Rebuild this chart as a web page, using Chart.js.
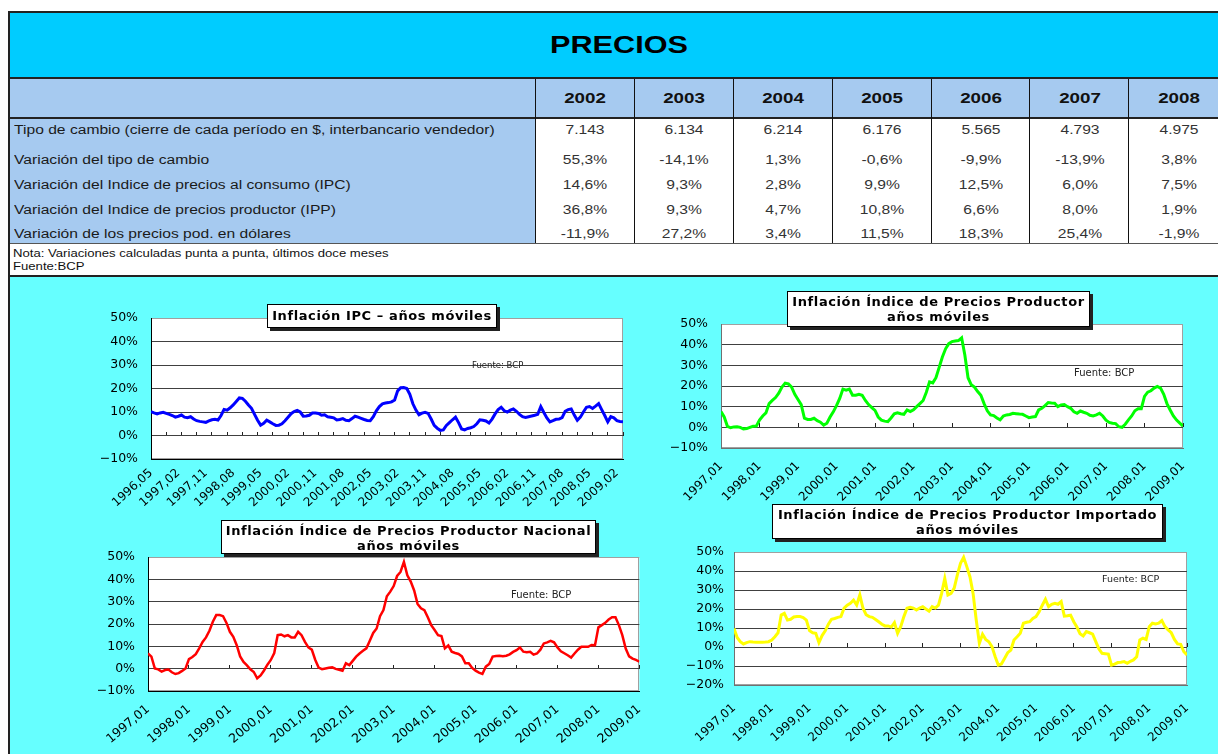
<!DOCTYPE html>
<html><head><meta charset="utf-8">
<script src="https://cdn.jsdelivr.net/npm/chart.js@4.4.0/dist/chart.umd.min.js"></script>
<style>
html,body{margin:0;padding:0;}
body{width:1218px;height:754px;overflow:hidden;position:relative;background:#fff;font-family:"Liberation Sans",Arial,sans-serif;}
.abs{position:absolute;}
.t{position:absolute;white-space:nowrap;height:20px;line-height:20px;}
.tl{transform-origin:0 50%;transform:scaleX(1.25);}
.tc{transform:translate(-50%,0) scaleX(1.25);}
.box{position:absolute;background:#fff;border:1px solid #000;box-shadow:3px 3px 0 #222;font-family:"DejaVu Sans",sans-serif;font-weight:bold;font-size:13px;letter-spacing:0.6px;line-height:15px;text-align:center;color:#000;box-sizing:border-box;white-space:nowrap;}
.src{position:absolute;font-family:"DejaVu Sans",sans-serif;color:#222;white-space:nowrap;line-height:12px;}
canvas{position:absolute;}
</style></head><body>
<!-- page blocks -->
<div class="abs" style="left:10px;top:13px;width:1220px;height:64px;background:#00CCFF"></div>
<div class="abs" style="left:10px;top:79px;width:1220px;height:38px;background:#A6CAF0"></div>
<div class="abs" style="left:10px;top:119px;width:526px;height:124px;background:#A6CAF0"></div>
<div class="abs" style="left:10px;top:277px;width:1220px;height:480px;background:#66FFFF"></div>
<div class="abs" style="left:8px;top:11px;width:1230px;height:2px;background:#222"></div>
<div class="abs" style="left:8px;top:11px;width:2px;height:760px;background:#222"></div>
<div class="abs" style="left:10px;top:77px;width:1220px;height:2px;background:#222"></div>
<div class="abs" style="left:10px;top:117px;width:1220px;height:2px;background:#222"></div>
<div class="abs" style="left:10px;top:243px;width:1220px;height:1px;background:#555"></div>
<div class="abs" style="left:10px;top:275px;width:1220px;height:2px;background:#222"></div>
<div id="cols"></div>
<div id="texts"></div>

<canvas id="c1" width="580" height="225" style="left:60px;top:290px"></canvas>
<canvas id="c2" width="558" height="215" style="left:660px;top:290px"></canvas>
<canvas id="c3" width="600" height="239" style="left:60px;top:515px"></canvas>
<canvas id="c4" width="558" height="249" style="left:660px;top:505px"></canvas>

<div class="box" style="left:267px;top:304px;width:230px;height:24px;line-height:22px">Inflación IPC – años móviles</div>
<div class="box" style="left:787px;top:291px;width:303px;height:36px;padding-top:2px">Inflación Índice de Precios Productor<br>años móviles</div>
<div class="box" style="left:221px;top:520px;width:375px;height:34px;padding-top:2px">Inflación Índice de Precios Productor Nacional<br>años móviles</div>
<div class="box" style="left:772px;top:504px;width:391px;height:35px;padding-top:2px">Inflación Índice de Precios Productor Importado<br>años móviles</div>

<div class="src" style="left:472px;top:359px;font-size:8.5px">Fuente: BCP</div>
<div class="src" style="left:1074px;top:367px;font-size:10px">Fuente: BCP</div>
<div class="src" style="left:511px;top:589px;font-size:10px">Fuente: BCP</div>
<div class="src" style="left:1102px;top:573px;font-size:9.5px">Fuente: BCP</div>

<script>
// ---------- table data ----------
const years = ['2002','2003','2004','2005','2006','2007','2008'];
const rowLabels = [
  'Tipo de cambio (cierre de cada período en $, interbancario vendedor)',
  'Variación del tipo de cambio',
  'Variación del Indice de precios al consumo (IPC)',
  'Variación del Indice de precios productor (IPP)',
  'Variación de los precios pod. en dólares'
];
const tipoCambio   = ['7.143','6.134','6.214','6.176','5.565','4.793','4.975'];
const varTipo      = ['55,3%','-14,1%','1,3%','-0,6%','-9,9%','-13,9%','3,8%'];
const varIPC       = ['14,6%','9,3%','2,8%','9,9%','12,5%','6,0%','7,5%'];
const varIPP       = ['36,8%','9,3%','4,7%','10,8%','6,6%','8,0%','1,9%'];
const varDolares   = ['-11,9%','27,2%','3,4%','11,5%','18,3%','25,4%','-1,9%'];
const notes = ['Nota: Variaciones calculadas punta a punta, últimos doce meses','Fuente:BCP'];

// ---------- chart data ----------
const ipcTickLabels = ['1996,05','1997,02','1997,11','1998,08','1999,05','2000,02','2000,11','2001,08','2002,05','2003,02','2003,11','2004,08','2005,05','2006,02','2006,11','2007,08','2008,05','2009,02'];
const yearTickLabels = ['1997,01','1998,01','1999,01','2000,01','2001,01','2002,01','2003,01','2004,01','2005,01','2006,01','2007,01','2008,01','2009,01'];

const ipc = [10.1,9.6,9.2,9.6,9.9,9.4,9.0,8.5,7.8,8.2,
 8.7,7.8,7.6,8.0,7.0,6.3,6.0,5.8,5.6,6.2,
 6.7,6.9,6.6,8.5,11.1,10.8,11.8,13.0,14.5,16.0,
 15.8,14.6,13.0,11.6,9.0,6.5,4.4,5.2,6.5,5.8,
 5.0,4.3,4.4,5.0,6.3,7.8,9.3,10.2,10.7,10.0,
 8.2,8.3,8.6,9.6,9.6,9.4,8.6,8.8,8.0,7.8,
 7.5,6.6,6.8,7.2,6.5,6.3,7.2,8.2,7.8,7.3,
 6.8,6.4,6.3,8.0,10.5,12.3,13.5,13.8,14.0,14.3,
 15.1,19.0,20.3,20.4,20.0,17.5,13.5,10.8,8.8,9.5,
 9.9,9.4,7.0,4.3,3.1,2.2,2.4,4.3,5.5,6.7,
 7.8,5.5,2.8,2.4,3.0,3.3,3.8,5.0,6.7,6.5,
 6.2,5.3,7.0,9.2,11.0,12.0,10.5,10.0,10.8,11.3,
 10.3,9.0,8.0,7.7,8.0,8.3,8.6,9.0,12.3,9.8,
 7.5,5.8,6.3,6.9,7.0,7.6,10.3,11.0,11.3,8.7,
 6.5,7.8,10.0,12.0,12.3,11.5,12.5,13.6,11.0,8.5,
 5.8,8.0,7.5,6.3,6.0,5.9];

const ipp = [7.6,5.0,0.5,-0.2,0.2,0.3,0.0,-0.8,-0.6,0.0,
 0.5,0.6,3.5,5.5,7.0,11.5,13.0,14.4,16.5,19.5,
 21.4,21.0,19.5,16.0,13.5,11.0,4.4,3.8,3.8,4.4,
 3.2,2.5,1.1,2.0,5.0,7.5,10.5,14.0,18.5,18.0,
 18.5,15.5,15.5,16.0,15.5,13.0,11.0,9.5,8.2,5.0,
 3.5,3.0,2.8,4.5,6.5,7.0,6.6,6.3,8.4,7.6,
 8.5,10.0,11.5,13.0,17.0,22.0,21.5,24.0,29.0,34.0,
 38.0,40.5,41.5,41.8,42.0,43.3,35.0,24.0,20.6,19.5,
 17.3,15.5,11.5,8.0,6.0,5.7,4.5,3.6,5.5,6.0,
 6.2,6.8,6.6,6.4,6.3,5.5,4.7,5.0,5.2,8.4,
 9.2,10.5,12.0,11.8,11.7,10.0,10.8,11.0,10.0,9.2,
 7.5,6.8,7.9,7.3,6.8,5.8,5.5,6.0,6.8,5.5,
 3.5,2.4,2.0,1.8,0.3,0.0,1.5,3.6,5.5,8.0,
 9.0,9.0,15.0,17.0,17.7,19.0,19.8,19.0,16.0,11.5,
 8.4,5.5,3.5,2.0,0.6];

const ippNacional = [6.8,5.4,0.1,-0.3,-1.3,-0.6,-0.4,-1.6,-2.4,-2.0,
 -1.0,0.1,4.3,5.2,6.5,9.1,12.0,14.0,17.0,21.0,
 24.0,24.0,23.5,20.5,16.5,14.3,10.5,5.5,3.0,1.5,
 -0.3,-1.5,-4.3,-3.0,-0.8,1.8,3.9,7.0,15.0,15.3,
 14.5,15.0,14.0,14.0,16.5,15.0,12.0,9.5,8.5,4.0,
 0.5,-0.2,0.1,0.4,0.6,-0.1,-0.5,-0.9,2.4,1.6,
 3.5,5.4,6.8,8.0,9.1,12.5,16.0,18.0,23.5,26.2,
 32.4,34.5,37.0,41.5,43.3,47.8,41.8,39.0,35.0,29.0,
 27.0,26.2,23.0,19.5,17.3,15.0,14.6,9.1,10.4,7.6,
 7.0,6.6,5.5,2.4,2.4,0.3,-0.9,-1.8,-2.4,0.9,
 2.1,5.4,5.7,5.8,5.6,5.8,6.4,7.5,8.3,9.5,
 7.6,7.4,7.6,6.3,6.8,8.5,11.3,11.8,12.5,11.8,
 9.5,7.8,6.9,6.0,5.0,6.8,8.5,9.8,9.8,9.8,
 10.6,10.5,18.5,19.5,20.5,22.0,23.0,23.0,19.5,15.0,
 9.0,5.5,4.5,3.9,3.1];

const ippImportado = [9.8,5.0,2.8,1.6,2.3,2.8,2.6,2.5,2.5,2.5,
 2.6,2.8,3.7,5.4,7.5,16.8,17.7,14.2,14.6,15.8,
 16.0,16.0,15.5,14.2,8.6,7.5,7.2,2.3,6.0,8.5,
 12.0,14.6,15.0,15.6,16.0,20.5,22.0,23.0,24.7,22.1,
 27.4,20.4,17.0,16.0,15.6,14.5,13.3,12.0,11.1,11.1,
 10.5,12.8,7.2,10.7,16.0,20.4,20.9,20.5,19.5,20.5,
 21.2,20.0,18.9,21.2,20.5,22.0,28.2,36.1,27.4,28.2,
 31.0,38.0,44.0,47.2,42.3,37.0,28.2,14.2,1.9,6.7,
 4.0,2.8,0.2,-5.0,-9.5,-8.9,-6.0,-3.0,-1.6,3.7,
 5.4,7.2,12.5,13.0,13.3,15.0,16.0,18.6,22.0,25.1,
 21.2,22.5,23.0,22.5,23.9,16.3,16.5,16.8,13.3,10.5,
 7.0,5.8,8.1,7.5,6.8,2.8,-1.0,-3.3,-3.5,-3.7,
 -9.5,-9.0,-8.2,-8.0,-7.7,-8.6,-7.5,-6.8,-5.1,3.7,
 4.6,4.0,10.7,12.5,12.1,12.5,13.9,10.7,9.0,7.5,
 4.0,1.6,1.4,-2.5,-4.2];

// ---------- table build ----------
const colEdges = [536,634.7,733.6,832.6,931.5,1030.4,1129.4,1228.3];
const colsDiv = document.getElementById('cols');
colEdges.forEach(x=>{
  const d=document.createElement('div');
  d.className='abs';
  d.style.cssText=`left:${Math.round(x)-1}px;top:79px;width:1px;height:164px;background:#111`;
  colsDiv.appendChild(d);
});
const tDiv = document.getElementById('texts');
function addText(txt,x,cy,cls,style){
  const d=document.createElement('div');
  d.className='t '+cls;
  d.textContent=txt;
  d.style.cssText=`left:${x}px;top:${cy-10}px;`+style;
  tDiv.appendChild(d);
}
addText('PRECIOS',619,45,'tc','font-size:24.5px;font-weight:bold;color:#000;height:30px;line-height:30px;top:30px');
years.forEach((y,i)=>addText(y,(colEdges[i]+colEdges[i+1])/2,98,'tc','font-size:15px;font-weight:bold;color:#111'));
const rowsY=[130,160,185,210,234];
const rowVals=[tipoCambio,varTipo,varIPC,varIPP,varDolares];
rowLabels.forEach((l,r)=>{
  addText(l,14,rowsY[r],'tl','font-size:12.5px;color:#1a1a1a');
  rowVals[r].forEach((v,i)=>addText(v,(colEdges[i]+colEdges[i+1])/2,rowsY[r],'tc','font-size:12.5px;color:#333'));
});
addText(notes[0],13,253,'tl','font-size:10.5px;color:#111');
addText(notes[1],13,266,'tl','font-size:10.5px;color:#111');

// ---------- charts ----------
Chart.defaults.font.family='DejaVu Sans';
const plotBg={id:'plotBg',beforeDraw(chart,args,opts){
  const {ctx,chartArea:a}=chart;ctx.save();
  ctx.fillStyle='#fff';ctx.fillRect(a.left,a.top,a.width,a.height);
  ctx.strokeStyle=opts.frame||'#a0a0a0';ctx.lineWidth=1;
  ctx.strokeRect(Math.round(a.left)+0.5,Math.round(a.top)+0.5,Math.round(a.width)-1,Math.round(a.height)-1);
  ctx.restore();}};

function makeChart(id,values,c){
  const labels=c.labels, step=c.labelStep;
  new Chart(document.getElementById(id),{
    type:'line',
    data:{datasets:[{data:values.map((v,i)=>({x:i,y:v})),borderColor:c.color,borderWidth:c.lw||3,pointRadius:0,tension:0,fill:false}]},
    options:{
      responsive:false,animation:false,events:[],
      layout:{padding:{top:c.top,right:c.right,left:0,bottom:0}},
      plugins:{legend:{display:false},tooltip:{enabled:false},plotBg:{frame:'#a0a0a0'}},
      scales:{
        x:{type:'linear',position:'bottom',min:0,max:c.xMax,
          grid:{display:false,drawTicks:false},
          border:{display:true,color:c.axis,width:1},
          ticks:{stepSize:step,includeBounds:false,autoSkip:false,minRotation:c.rot,maxRotation:c.rot,padding:c.lpad,color:'#000',
            font:{size:c.xfs||12},
            callback:(v)=>{const k=v/step;return (Number.isInteger(k)&&k<labels.length)?labels[k]:null;}},
          afterFit:(s)=>{s.height=c.xH;}},
        x2:{type:'linear',axis:'x',position:{y:0},min:0,max:c.xMax,
          grid:{display:true,drawOnChartArea:false,drawTicks:true,tickLength:-4,color:c.tickColor||'#222',lineWidth:1},
          border:{display:false},
          ticks:{display:false,stepSize:c.tickStep,includeBounds:false}},
        y:{type:'linear',position:'left',min:c.yMin,max:50,
          grid:{drawTicks:false,lineWidth:1,color:(ctx)=>ctx.tick&&ctx.tick.value===50?'#a0a0a0':'#404040'},
          border:{display:true,color:c.axis,width:1},
          ticks:{stepSize:10,padding:c.ypad||13,color:'#000',font:{size:12.5},
            callback:(v)=>(v<0?'\u2212':'')+Math.abs(v)+'%'},
          afterFit:(s)=>{s.width=c.yW;}}
      }
    },
    plugins:[plotBg]
  });
}
makeChart('c1',ipc,{labels:ipcTickLabels,labelStep:9,tickStep:5,xMax:155,yMin:-10,color:'#0000FF',axis:'#000',
  top:28,right:17,yW:91,xH:56,rot:42,lpad:7});
makeChart('c2',ipp,{labels:yearTickLabels,labelStep:12,tickStep:12,xMax:144,yMin:-10,color:'#00FF00',axis:'#707070',
  top:34,right:35,yW:61,xH:57,rot:45,lpad:11});
makeChart('c3',ippNacional,{labels:yearTickLabels,labelStep:12,tickStep:12,xMax:144,yMin:-10,color:'#FF0000',axis:'#000',
  top:42,right:17,yW:88,xH:63,rot:40,lpad:11,xfs:12.5,lw:2.5});
makeChart('c4',ippImportado,{labels:yearTickLabels,labelStep:12,tickStep:12,xMax:144,yMin:-20,color:'#FFFF00',axis:'#707070',
  top:47,right:31,yW:74,xH:69,rot:42,lpad:16,ypad:10});
</script>
</body></html>
